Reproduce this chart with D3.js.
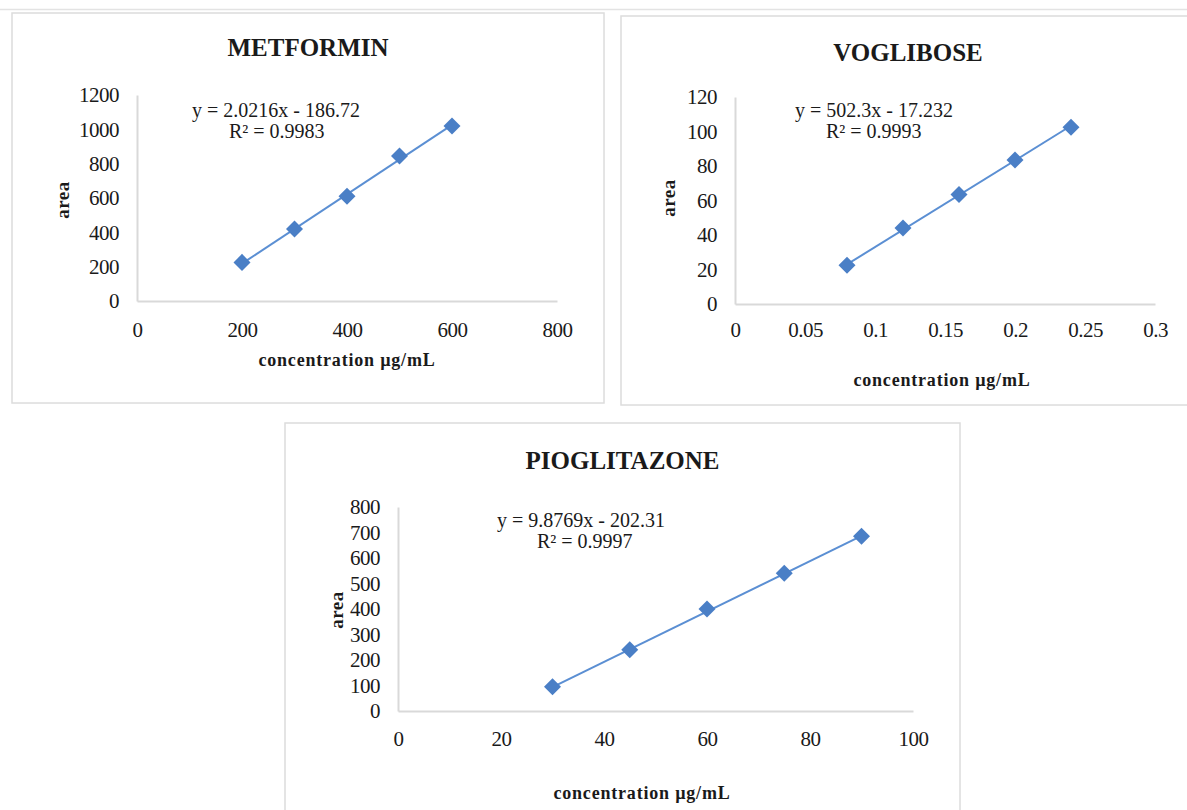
<!DOCTYPE html>
<html>
<head>
<meta charset="utf-8">
<script src="https://cdn.jsdelivr.net/npm/d3@7/dist/d3.min.js"></script>
<style>
  html, body { margin: 0; padding: 0; background: #fff; }
  svg text { font-family: "Liberation Serif", "Times New Roman", serif; fill: #1a1a1a; }
</style>
</head>
<body>
<svg id="chart" width="1187" height="810"></svg>
<script>
// calibration data
var metforminConc = [200, 300, 400, 500, 600];
var metforminArea = [225, 420, 610, 845, 1020];
var metforminXTicks = [0, 200, 400, 600, 800];
var metforminYTicks = [0, 200, 400, 600, 800, 1000, 1200];
var metforminFit = [2.0216, -186.72];
var metforminLabels = ['y = 2.0216x - 186.72', 'R² = 0.9983'];

var vogliboseConc = [0.08, 0.12, 0.16, 0.2, 0.24];
var vogliboseArea = [22.5, 44, 63.5, 83.5, 102.5];
var vogliboseXTicks = [0, 0.05, 0.1, 0.15, 0.2, 0.25, 0.3];
var vogliboseYTicks = [0, 20, 40, 60, 80, 100, 120];
var vogliboseFit = [502.3, -17.232];
var vogliboseLabels = ['y = 502.3x - 17.232', 'R² = 0.9993'];

var pioglitazoneConc = [30, 45, 60, 75, 90];
var pioglitazoneArea = [95, 240, 400, 540, 685];
var pioglitazoneXTicks = [0, 20, 40, 60, 80, 100];
var pioglitazoneYTicks = [0, 100, 200, 300, 400, 500, 600, 700, 800];
var pioglitazoneFit = [9.8769, -202.31];
var pioglitazoneLabels = ['y = 9.8769x - 202.31', 'R² = 0.9997'];

var markerColor = '#4a7fc6';
var lineColor = '#5b8fd3';
var axisColor = '#d9d9d9';

var svg = d3.select('#chart');

// faint rule along the top of the page
svg.append('line').attr('x1', 0).attr('x2', 1187).attr('y1', 9.5).attr('y2', 9.5)
    .attr('stroke', '#e3e3e3').attr('stroke-width', 1.5);

var panels = [
    {
        title: 'METFORMIN', conc: metforminConc, area: metforminArea,
        xTicks: metforminXTicks, yTicks: metforminYTicks, fit: metforminFit, labels: metforminLabels,
        box: [12, 13, 592, 390],
        plot: {left: 137, right: 557, top: 95, bottom: 301},
        titleY: 56, eq: [[192, 117], [229, 138]],
        yTitle: [62, 200], xTitle: [347, 366], xLabelDy: 36
    },
    {
        title: 'VOGLIBOSE', conc: vogliboseConc, area: vogliboseArea,
        xTicks: vogliboseXTicks, yTicks: vogliboseYTicks, fit: vogliboseFit, labels: vogliboseLabels,
        box: [621, 16, 580, 389],
        plot: {left: 735, right: 1155, top: 97, bottom: 304},
        titleY: 61, eq: [[795, 117], [826, 138]],
        yTitle: [668, 198], xTitle: [942, 386], xLabelDy: 33
    },
    {
        title: 'PIOGLITAZONE', conc: pioglitazoneConc, area: pioglitazoneArea,
        xTicks: pioglitazoneXTicks, yTicks: pioglitazoneYTicks, fit: pioglitazoneFit, labels: pioglitazoneLabels,
        box: [285, 423, 675, 400],
        plot: {left: 398, right: 913, top: 507, bottom: 711},
        titleY: 469, eq: [[497, 527], [537, 548]],
        yTitle: [336, 610], xTitle: [642, 799], xLabelDy: 35
    }
];

panels.forEach(drawPanel);

function drawPanel(p) {
    var g = svg.append('g');

    // chart border
    g.append('rect')
        .attr('x', p.box[0]).attr('y', p.box[1])
        .attr('width', p.box[2]).attr('height', p.box[3])
        .attr('fill', '#fff').attr('stroke', '#dcdcdc').attr('stroke-width', 1.5);

    var x = d3.scaleLinear()
        .domain([p.xTicks[0], p.xTicks[p.xTicks.length - 1]])
        .range([p.plot.left, p.plot.right]);
    var y = d3.scaleLinear()
        .domain([p.yTicks[0], p.yTicks[p.yTicks.length - 1]])
        .range([p.plot.bottom, p.plot.top]);

    var plain = function(d) { return String(+d.toFixed(4)); };

    // axes
    var xAxis = g.append('g')
        .attr('transform', 'translate(0,' + p.plot.bottom + ')')
        .call(d3.axisBottom(x).tickValues(p.xTicks).tickSize(0).tickPadding(p.xLabelDy - 15)
            .tickFormat(plain));
    var yAxis = g.append('g')
        .attr('transform', 'translate(' + p.plot.left + ',0)')
        .call(d3.axisLeft(y).tickValues(p.yTicks).tickSize(0).tickPadding(18)
            .tickFormat(plain));

    [xAxis, yAxis].forEach(function(a) {
        a.select('.domain').attr('stroke', axisColor).attr('stroke-width', 2);
        a.selectAll('text')
            .attr('font-family', '"Liberation Serif", serif')
            .attr('font-size', 21)
            .attr('letter-spacing', -0.5)
            .attr('fill', '#1a1a1a');
    });

    // title
    g.append('text')
        .attr('x', (p.box[0] + Math.min(p.box[0] + p.box[2], 1187)) / 2 + (p.title === 'VOGLIBOSE' ? 4 : 0))
        .attr('y', p.titleY)
        .attr('text-anchor', 'middle')
        .attr('font-size', 25).attr('font-weight', 'bold')
        .text(p.title);

    // axis titles
    g.append('text')
        .attr('transform', 'translate(' + p.yTitle[0] + ',' + p.yTitle[1] + ') rotate(-90)')
        .attr('text-anchor', 'middle').attr('dy', '0.35em')
        .attr('font-size', 19).attr('font-weight', 'bold').attr('letter-spacing', 0.5)
        .text('area');
    g.append('text')
        .attr('x', p.xTitle[0]).attr('y', p.xTitle[1])
        .attr('text-anchor', 'middle')
        .attr('font-size', 18).attr('font-weight', 'bold').attr('letter-spacing', 0.8)
        .text('concentration µg/mL');

    // linear trendline across the data range
    var x0 = d3.min(p.conc), x1 = d3.max(p.conc);
    g.append('line')
        .attr('x1', x(x0)).attr('y1', y(p.fit[0] * x0 + p.fit[1]))
        .attr('x2', x(x1)).attr('y2', y(p.fit[0] * x1 + p.fit[1]))
        .attr('stroke', lineColor).attr('stroke-width', 2);

    // diamond markers
    var pts = p.conc.map(function(c, i) { return [c, p.area[i]]; });
    g.append('g').selectAll('path')
        .data(pts).enter().append('path')
        .attr('d', d3.symbol(d3.symbolSquare, 145))
        .attr('transform', function(d) {
            return 'translate(' + x(d[0]) + ',' + y(d[1]) + ') rotate(45)';
        })
        .attr('fill', markerColor);

    // equation + R²
    g.selectAll('.eq')
        .data(p.labels).enter().append('text')
        .attr('x', function(d, i) { return p.eq[i][0]; })
        .attr('y', function(d, i) { return p.eq[i][1]; })
        .attr('font-size', 20)
        .text(function(d) { return d; });
}
</script>
</body>
</html>
